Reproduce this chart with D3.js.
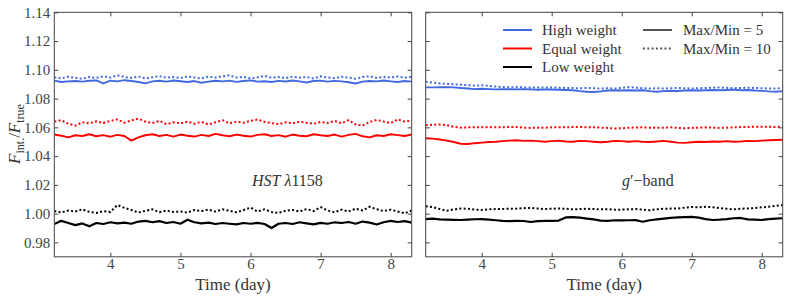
<!DOCTYPE html>
<html>
<head>
  <meta charset="utf-8">
  <script src="https://d3js.org/d3.v7.min.js"></script>
  <style>
    body { margin: 0; background: #fff; }
    text { font-family: "Liberation Serif", "DejaVu Serif", serif; fill: #333; }
    .tick line { stroke: #444; }
    .tick text { font-size: 15px; fill: #444; }
    .line { fill: none; stroke-linejoin: round; }
  </style>
</head>
<body>
  <svg width="789" height="300"></svg>
  <script>
    // time grid (day)
    var time = [3.2, 3.3, 3.4, 3.5, 3.6, 3.7, 3.8, 3.9, 4.0, 4.1,
      4.2, 4.3, 4.4, 4.5, 4.6, 4.7, 4.8, 4.9, 5.0, 5.1,
      5.2, 5.3, 5.4, 5.5, 5.6, 5.7, 5.8, 5.9, 6.0, 6.1,
      6.2, 6.3, 6.4, 6.5, 6.6, 6.7, 6.8, 6.9, 7.0, 7.1,
      7.2, 7.3, 7.4, 7.5, 7.6, 7.7, 7.8, 7.9, 8.0, 8.1,
      8.2, 8.3];

    // HST lambda1158 panel
    var hstHigh5 = [1.0925, 1.0915, 1.0920, 1.0922, 1.0918, 1.0924, 1.0926, 1.0905, 1.0925, 1.0920,
      1.0928, 1.0922, 1.0915, 1.0906, 1.0920, 1.0924, 1.0918, 1.0926, 1.0921, 1.0915,
      1.0922, 1.0910, 1.0918, 1.0924, 1.0920, 1.0925, 1.0916, 1.0922, 1.0927, 1.0918,
      1.0921, 1.0915, 1.0923, 1.0919, 1.0926, 1.0920, 1.0912, 1.0922, 1.0925, 1.0918,
      1.0923, 1.0920, 1.0914, 1.0905, 1.0918, 1.0922, 1.0920, 1.0926, 1.0920, 1.0915,
      1.0922, 1.0918];
    var hstHigh10 = [1.0948, 1.0940, 1.0952, 1.0945, 1.0938, 1.0950, 1.0944, 1.0955, 1.0946, 1.0962,
      1.0950, 1.0944, 1.0953, 1.0940, 1.0948, 1.0956, 1.0945, 1.0950, 1.0942, 1.0954,
      1.0947, 1.0940, 1.0952, 1.0946, 1.0955, 1.0962, 1.0946, 1.0951, 1.0940, 1.0948,
      1.0958, 1.0945, 1.0950, 1.0942, 1.0953, 1.0946, 1.0950, 1.0940, 1.0955, 1.0947,
      1.0942, 1.0952, 1.0946, 1.0938, 1.0950, 1.0955, 1.0944, 1.0950, 1.0946, 1.0954,
      1.0945, 1.0950];
    var hstEqual5 = [1.0550, 1.0542, 1.0530, 1.0545, 1.0540, 1.0552, 1.0538, 1.0546, 1.0535, 1.0548,
      1.0540, 1.0508, 1.0530, 1.0545, 1.0552, 1.0540, 1.0548, 1.0535, 1.0550, 1.0542,
      1.0536, 1.0548, 1.0540, 1.0555, 1.0545, 1.0538, 1.0550, 1.0542, 1.0536, 1.0548,
      1.0552, 1.0540, 1.0546, 1.0535, 1.0550, 1.0542, 1.0538, 1.0552, 1.0545, 1.0540,
      1.0550, 1.0536, 1.0548, 1.0555, 1.0538, 1.0530, 1.0545, 1.0540, 1.0552, 1.0546,
      1.0540, 1.0550];
    var hstEqual10 = [1.0640, 1.0650, 1.0625, 1.0612, 1.0635, 1.0628, 1.0642, 1.0630, 1.0645, 1.0655,
      1.0632, 1.0648, 1.0660, 1.0640, 1.0630, 1.0645, 1.0622, 1.0635, 1.0628, 1.0640,
      1.0625, 1.0638, 1.0620, 1.0635, 1.0650, 1.0628, 1.0640, 1.0632, 1.0645, 1.0655,
      1.0638, 1.0630, 1.0622, 1.0635, 1.0628, 1.0640, 1.0632, 1.0625, 1.0638, 1.0630,
      1.0645, 1.0628, 1.0650, 1.0620, 1.0612, 1.0638, 1.0652, 1.0640, 1.0630, 1.0655,
      1.0640, 1.0648];
    var hstLow5 = [0.9928, 0.9950, 0.9935, 0.9920, 0.9932, 0.9912, 0.9935, 0.9928, 0.9940, 0.9932,
      0.9938, 0.9930, 0.9945, 0.9950, 0.9940, 0.9948, 0.9935, 0.9942, 0.9930, 0.9958,
      0.9940, 0.9932, 0.9938, 0.9928, 0.9935, 0.9930, 0.9925, 0.9935, 0.9930, 0.9936,
      0.9928, 0.9900, 0.9930, 0.9935, 0.9928, 0.9940, 0.9932, 0.9925, 0.9936, 0.9930,
      0.9940, 0.9935, 0.9942, 0.9930, 0.9945, 0.9938, 0.9925, 0.9940, 0.9950, 0.9942,
      0.9948, 0.9938];
    var hstLow10 = [1.0018, 1.0008, 1.0022, 1.0015, 1.0030, 1.0012, 1.0005, 1.0018, 1.0012, 1.0060,
      1.0040, 1.0025, 1.0008, 1.0020, 1.0030, 1.0010, 1.0022, 1.0012, 1.0015, 1.0008,
      1.0025, 1.0018, 1.0028, 1.0015, 1.0030, 1.0020, 1.0010, 1.0025, 1.0042, 1.0015,
      1.0030, 1.0012, 1.0005, 1.0020, 1.0025, 1.0015, 1.0032, 1.0018, 1.0045, 1.0022,
      1.0010, 1.0028, 1.0015, 1.0035, 1.0022, 1.0048, 1.0030, 1.0018, 1.0028, 1.0015,
      1.0002, 1.0022];

    // g'-band panel
    var gHigh5 = [1.0878, 1.0878, 1.0879, 1.0880, 1.0878, 1.0874, 1.0870, 1.0866, 1.0868, 1.0866,
      1.0864, 1.0866, 1.0865, 1.0864, 1.0866, 1.0864, 1.0862, 1.0864, 1.0863, 1.0862,
      1.0860, 1.0858, 1.0852, 1.0848, 1.0846, 1.0850, 1.0856, 1.0858, 1.0856, 1.0858,
      1.0856, 1.0858, 1.0852, 1.0848, 1.0852, 1.0855, 1.0853, 1.0856, 1.0858, 1.0856,
      1.0858, 1.0860, 1.0858, 1.0860, 1.0862, 1.0858, 1.0860, 1.0856, 1.0854, 1.0850,
      1.0848, 1.0852];
    var gHigh10 = [1.0918, 1.0912, 1.0905, 1.0902, 1.0900, 1.0896, 1.0894, 1.0890, 1.0892, 1.0888,
      1.0884, 1.0880, 1.0878, 1.0880, 1.0878, 1.0876, 1.0878, 1.0876, 1.0878, 1.0876,
      1.0874, 1.0873, 1.0872, 1.0874, 1.0872, 1.0870, 1.0872, 1.0870, 1.0874, 1.0880,
      1.0876, 1.0872, 1.0870, 1.0872, 1.0870, 1.0872, 1.0874, 1.0872, 1.0870, 1.0872,
      1.0874, 1.0876, 1.0878, 1.0875, 1.0872, 1.0874, 1.0876, 1.0874, 1.0872, 1.0870,
      1.0870, 1.0872];
    var gEqual5 = [1.0524, 1.0522, 1.0516, 1.0508, 1.0498, 1.0486, 1.0484, 1.0490, 1.0494, 1.0498,
      1.0500, 1.0504, 1.0508, 1.0510, 1.0506, 1.0508, 1.0504, 1.0500, 1.0504, 1.0508,
      1.0502, 1.0500, 1.0506, 1.0504, 1.0500, 1.0496, 1.0500, 1.0506, 1.0504, 1.0500,
      1.0504, 1.0500, 1.0498, 1.0502, 1.0506, 1.0500, 1.0494, 1.0492, 1.0496, 1.0500,
      1.0498, 1.0502, 1.0500, 1.0504, 1.0500, 1.0502, 1.0506, 1.0504, 1.0508, 1.0510,
      1.0512, 1.0514];
    var gEqual10 = [1.0616, 1.0618, 1.0620, 1.0615, 1.0604, 1.0598, 1.0600, 1.0601, 1.0600, 1.0602,
      1.0601, 1.0600, 1.0603, 1.0602, 1.0598, 1.0596, 1.0598, 1.0597, 1.0600, 1.0601,
      1.0600, 1.0602, 1.0603, 1.0600, 1.0601, 1.0598, 1.0596, 1.0592, 1.0594, 1.0597,
      1.0599, 1.0600, 1.0598, 1.0597, 1.0598, 1.0600, 1.0596, 1.0594, 1.0596, 1.0598,
      1.0600, 1.0598, 1.0596, 1.0598, 1.0600, 1.0602, 1.0603, 1.0604, 1.0605, 1.0604,
      1.0603, 1.0604];
    var gLow5 = [0.9962, 0.9966, 0.9960, 0.9958, 0.9957, 0.9956, 0.9958, 0.9961, 0.9962, 0.9958,
      0.9954, 0.9950, 0.9948, 0.9950, 0.9949, 0.9942, 0.9948, 0.9950, 0.9950, 0.9952,
      0.9974, 0.9976, 0.9972, 0.9966, 0.9960, 0.9952, 0.9950, 0.9954, 0.9953, 0.9954,
      0.9955, 0.9944, 0.9954, 0.9960, 0.9966, 0.9970, 0.9974, 0.9976, 0.9978, 0.9972,
      0.9962, 0.9956, 0.9958, 0.9962, 0.9968, 0.9970, 0.9960, 0.9958, 0.9956, 0.9962,
      0.9966, 0.9968];
    var gLow10 = [1.0052, 1.0046, 1.0032, 1.0020, 1.0030, 1.0036, 1.0034, 1.0028, 1.0026, 1.0030,
      1.0032, 1.0033, 1.0034, 1.0035, 1.0038, 1.0040, 1.0036, 1.0032, 1.0034, 1.0036,
      1.0034, 1.0030, 1.0032, 1.0034, 1.0032, 1.0030, 1.0031, 1.0028, 1.0028, 1.0030,
      1.0032, 1.0028, 1.0024, 1.0030, 1.0034, 1.0035, 1.0036, 1.0042, 1.0046, 1.0044,
      1.0048, 1.0044, 1.0038, 1.0034, 1.0030, 1.0034, 1.0036, 1.0038, 1.0044, 1.0048,
      1.0054, 1.0060];

    var yTicks = [0.98, 1.00, 1.02, 1.04, 1.06, 1.08, 1.10, 1.12, 1.14];
    var xTicks = [4, 5, 6, 7, 8];
    var weights = ["High weight", "Equal weight", "Low weight"];
    var colors = ["#4169e1", "#ff0000", "#000000"];
    var ratios = ["Max/Min = 5", "Max/Min = 10"];

    var panels = [
      { label: "hst", series: [[hstHigh5, hstHigh10], [hstEqual5, hstEqual10], [hstLow5, hstLow10]] },
      { label: "g", series: [[gHigh5, gHigh10], [gEqual5, gEqual10], [gLow5, gLow10]] }
    ];

    var svg = d3.select("svg");
    var plotTop = 12.3, plotBottom = 256.8;
    var panelX = [[54.3, 411.7], [425.7, 782.7]];

    var y = d3.scaleLinear().domain([0.97, 1.14]).range([plotBottom, plotTop]);

    panels.forEach(function(p, pi) {
      var x = d3.scaleLinear().domain([3.2, 8.3]).range(panelX[pi]);
      var g = svg.append("g");

      var line = d3.line()
        .x(function(d, i) { return x(time[i]); })
        .y(function(d) { return y(d); });

      var clipId = "clip" + pi;
      svg.append("clipPath").attr("id", clipId).append("rect")
        .attr("x", panelX[pi][0]).attr("y", plotTop)
        .attr("width", panelX[pi][1] - panelX[pi][0]).attr("height", plotBottom - plotTop);

      var lines = g.append("g").attr("clip-path", "url(#" + clipId + ")");
      p.series.forEach(function(pair, si) {
        lines.append("path").datum(pair[0])
          .attr("class", "line")
          .attr("stroke", colors[si])
          .attr("stroke-width", si == 2 ? 2.2 : 1.9)
          .attr("d", line);
        lines.append("path").datum(pair[1])
          .attr("class", "line")
          .attr("stroke", colors[si])
          .attr("stroke-width", 2)
          .attr("stroke-dasharray", "2,2.3")
          .attr("d", line);
      });

      // axes with inward ticks on every side
      g.append("g").attr("transform", "translate(0," + plotBottom + ")")
        .call(d3.axisBottom(x).tickValues(xTicks).tickFormat(d3.format("d")).tickSize(-4).tickPadding(2))
        .call(function(a) { a.select(".domain").remove(); });
      g.append("g").attr("transform", "translate(0," + plotTop + ")")
        .call(d3.axisTop(x).tickValues(xTicks).tickFormat("").tickSize(-4))
        .call(function(a) { a.select(".domain").remove(); });
      g.append("g").attr("transform", "translate(" + panelX[pi][0] + ",0)")
        .call(d3.axisLeft(y).tickValues(yTicks).tickFormat(pi == 0 ? d3.format(".2f") : "").tickSize(-4).tickPadding(4))
        .call(function(a) { a.select(".domain").remove(); });
      g.append("g").attr("transform", "translate(" + panelX[pi][1] + ",0)")
        .call(d3.axisRight(y).tickValues(yTicks).tickFormat("").tickSize(-4))
        .call(function(a) { a.select(".domain").remove(); });

      g.selectAll(".tick text").style("font-family", "'Liberation Serif', serif");

      g.append("rect")
        .attr("x", panelX[pi][0]).attr("y", plotTop)
        .attr("width", panelX[pi][1] - panelX[pi][0]).attr("height", plotBottom - plotTop)
        .attr("fill", "none").attr("stroke", "#444").attr("stroke-width", 1);

      g.append("text")
        .attr("x", (panelX[pi][0] + panelX[pi][1]) / 2)
        .attr("y", 290)
        .attr("text-anchor", "middle")
        .style("font-size", "17px")
        .text("Time (day)");
    });

    // panel annotations
    var hst = svg.append("text").attr("x", 252).attr("y", 186).style("font-size", "16px");
    hst.append("tspan").style("font-style", "italic").text("HST");
    hst.append("tspan").text(" ");
    hst.append("tspan").style("font-style", "italic").text("λ");
    hst.append("tspan").text("1158");

    var gb = svg.append("text").attr("x", 622).attr("y", 186).style("font-size", "16px");
    gb.append("tspan").style("font-style", "italic").text("g");
    gb.append("tspan").text("′−band");

    // y label
    var yl = svg.append("text")
      .attr("transform", "translate(20,134) rotate(-90)")
      .attr("text-anchor", "middle")
      .style("font-size", "17px");
    yl.append("tspan").style("font-style", "italic").text("F");
    yl.append("tspan").attr("dy", 4).style("font-size", "12px").text("int.");
    yl.append("tspan").attr("dy", -4).text("/");
    yl.append("tspan").style("font-style", "italic").text("F");
    yl.append("tspan").attr("dy", 4).style("font-size", "12px").text("true");

    // legend
    var legY = [30, 48.5, 67];
    weights.forEach(function(w, i) {
      svg.append("line").attr("x1", 503).attr("x2", 532).attr("y1", legY[i]).attr("y2", legY[i])
        .attr("stroke", colors[i]).attr("stroke-width", 2);
      svg.append("text").attr("x", 542).attr("y", legY[i] + 5).style("font-size", "15px").text(w);
    });
    ratios.forEach(function(r, i) {
      svg.append("line").attr("x1", 643).attr("x2", 672).attr("y1", legY[i]).attr("y2", legY[i])
        .attr("stroke", "#555").attr("stroke-width", 2)
        .attr("stroke-dasharray", i == 1 ? "2,2.3" : null);
      svg.append("text").attr("x", 683).attr("y", legY[i] + 5).style("font-size", "15px").text(r);
    });
  </script>
</body>
</html>
